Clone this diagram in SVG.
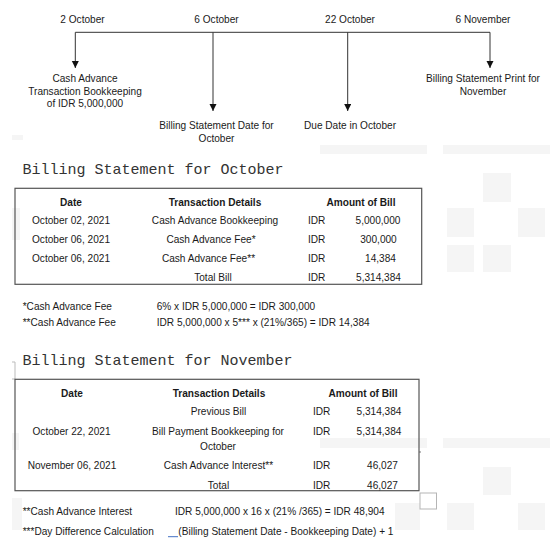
<svg xmlns="http://www.w3.org/2000/svg" width="553" height="539" viewBox="0 0 553 539">
<defs>
<style>
text{font-family:"Liberation Sans",Arial,sans-serif;font-size:10.1px;fill:#1a1a1a}
.c{text-anchor:middle}
.b{font-weight:bold}
.mono{font-family:"Liberation Mono","Courier New",monospace;font-size:15px;fill:#333}
.ln{stroke:#333;stroke-width:1;fill:none}
.box{fill:none;stroke:#555;stroke-width:1.2}
.ghost{fill:#f5f5f5}
</style>
<marker id="ah" markerWidth="8" markerHeight="8" refX="7" refY="3.5" orient="auto" markerUnits="userSpaceOnUse">
<path d="M0,0 L7,3.5 L0,7 Z" fill="#111"/>
</marker>
</defs>
<rect width="553" height="539" fill="#fff"/>
<g id="background-marks">
<rect class="ghost" x="12" y="135" width="11" height="5"/>
<rect class="ghost" x="320" y="145" width="107" height="9"/>
<rect class="ghost" x="443" y="145" width="107" height="9"/>
<rect class="ghost" x="483" y="173" width="28" height="29"/>
<rect class="ghost" x="447" y="208" width="27" height="29"/>
<rect class="ghost" x="518" y="208" width="27" height="29"/>
<rect class="ghost" x="447" y="245" width="27" height="27"/>
<rect class="ghost" x="483" y="245" width="28" height="27"/>
<rect class="ghost" x="12" y="208" width="8" height="32"/>
<rect class="ghost" x="320" y="438" width="107" height="10"/>
<rect class="ghost" x="443" y="438" width="107" height="10"/>
<rect class="ghost" x="483" y="467" width="28" height="28"/>
<rect class="ghost" x="395" y="503" width="25" height="27"/>
<rect class="ghost" x="447" y="503" width="27" height="27"/>
<rect class="ghost" x="518" y="503" width="27" height="27"/>
<rect class="ghost" x="12" y="433" width="7" height="17"/>
<rect class="ghost" x="12" y="498" width="10" height="32"/>
<rect x="420" y="493" width="16.5" height="16" fill="none" stroke="#b5b5b5" stroke-width="1"/>
<path d="M12,362 H15 V379 H12" fill="none" stroke="#bbb" stroke-width="1"/>
<circle cx="420" cy="452" r="0.8" fill="#666"/>
</g>
<g id="connectors">
<path class="ln" d="M75.3,32.3 H490"/>
<path class="ln" d="M75.3,32.3 V68" marker-end="url(#ah)"/>
<path class="ln" d="M213,32.3 V111" marker-end="url(#ah)"/>
<path class="ln" d="M347.7,32.3 V111" marker-end="url(#ah)"/>
<path class="ln" d="M490,32.3 V68" marker-end="url(#ah)"/>
</g>
<g id="date-2oct"><text class="c" x="82.5" y="23">2 October</text></g>
<g id="date-6oct"><text class="c" x="216.5" y="23">6 October</text></g>
<g id="date-22oct"><text class="c" x="350" y="23">22 October</text></g>
<g id="date-6nov"><text class="c" x="483" y="23">6 November</text></g>
<g id="event-cash-advance">
<text class="c" x="85" y="82">Cash Advance</text>
<text class="c" x="85" y="94.5">Transaction Bookkeeping</text>
<text class="c" x="85" y="107">of IDR 5,000,000</text>
</g>
<g id="event-billing-date">
<text class="c" x="216.5" y="129">Billing Statement Date for</text>
<text class="c" x="216.5" y="142">October</text>
</g>
<g id="event-due-date"><text class="c" x="350" y="129">Due Date in October</text></g>
<g id="event-billing-print">
<text class="c" x="483" y="82">Billing Statement Print for</text>
<text class="c" x="483" y="95">November</text>
</g>
<g id="october-statement">
<text class="mono" x="22.5" y="173.5">Billing Statement for October</text>
<rect class="box" x="15" y="188.3" width="406.7" height="96"/>
<text class="c b" x="71" y="205.5">Date</text>
<text class="c b" x="215" y="205.5">Transaction Details</text>
<text class="c b" x="361" y="205.5">Amount of Bill</text>
<text class="c" x="71" y="224">October 02, 2021</text>
<text class="c" x="215" y="224">Cash Advance Bookkeeping</text>
<text x="308" y="224">IDR</text>
<text class="c" x="378" y="224">5,000,000</text>
<text class="c" x="71" y="243">October 06, 2021</text>
<text class="c" x="211" y="243">Cash Advance Fee*</text>
<text x="308" y="243">IDR</text>
<text class="c" x="378.5" y="243">300,000</text>
<text class="c" x="71" y="262">October 06, 2021</text>
<text class="c" x="208.5" y="262">Cash Advance Fee**</text>
<text x="308" y="262">IDR</text>
<text class="c" x="380.5" y="262">14,384</text>
<text class="c" x="213" y="281">Total Bill</text>
<text x="308" y="281">IDR</text>
<text class="c" x="378.5" y="281">5,314,384</text>
</g>
<g id="october-notes">
<text x="22.7" y="310">*Cash Advance Fee</text>
<text x="156.7" y="310">6% x IDR 5,000,000 = IDR 300,000</text>
<text x="22.7" y="326">**Cash Advance Fee</text>
<text x="156.7" y="326">IDR 5,000,000 x 5*** x (21%/365) = IDR 14,384</text>
</g>
<g id="november-statement">
<text class="mono" x="22.5" y="365">Billing Statement for November</text>
<rect class="box" x="15" y="379.3" width="404" height="111.4"/>
<text class="c b" x="72" y="396.5">Date</text>
<text class="c b" x="219" y="396.5">Transaction Details</text>
<text class="c b" x="363" y="396.5">Amount of Bill</text>
<text class="c" x="218.5" y="415">Previous Bill</text>
<text x="313" y="415">IDR</text>
<text class="c" x="379" y="415">5,314,384</text>
<text class="c" x="71.5" y="435">October 22, 2021</text>
<text class="c" x="218" y="435">Bill Payment Bookkeeping for</text>
<text class="c" x="218" y="449.5">October</text>
<text x="313" y="435">IDR</text>
<text class="c" x="379" y="435">5,314,384</text>
<text class="c" x="72" y="469">November 06, 2021</text>
<text class="c" x="218.5" y="469">Cash Advance Interest**</text>
<text x="313" y="469">IDR</text>
<text class="c" x="382.5" y="469">46,027</text>
<text class="c" x="218.5" y="489">Total</text>
<text x="313" y="489">IDR</text>
<text class="c" x="382.5" y="489">46,027</text>
</g>
<g id="november-notes">
<text x="22.7" y="515">**Cash Advance Interest</text>
<text x="175" y="515">IDR 5,000,000 x 16 x (21% /365) = IDR 48,904</text>
<text x="22.7" y="535">***Day Difference Calculation</text>
<text x="178.3" y="535">(Billing Statement Date - Bookkeeping Date) + 1</text>
<path d="M168,536.7 H178" stroke="#4472c4" stroke-width="1"/>
</g>
</svg>
